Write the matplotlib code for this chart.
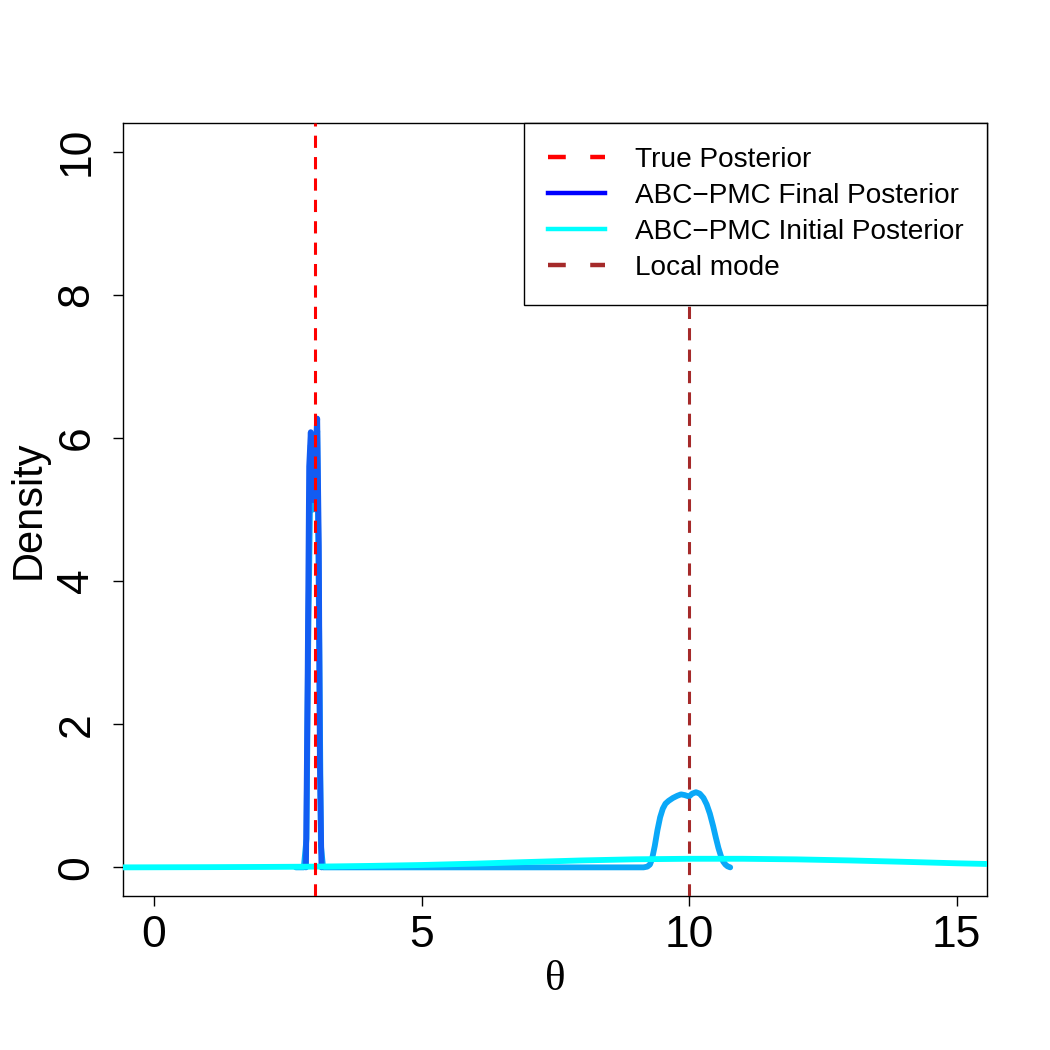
import numpy as np
import matplotlib.pyplot as plt
from matplotlib.lines import Line2D

plt.rcParams['font.family'] = ['Liberation Sans', 'DejaVu Sans']

true_theta = 3.0
local_mode = 10.0

# initial ABC-PMC posterior (broad, cyan)
init_x = np.array([-0.6, 1.0, 2.0, 3.0, 4.0, 5.0, 6.0, 7.0, 8.0, 9.0, 10.0, 11.0,
                   12.0, 13.0, 14.0, 15.0, 15.6])
init_y = np.array([0.0, 0.003, 0.006, 0.01, 0.02, 0.033, 0.052, 0.075, 0.097, 0.113,
                   0.12, 0.12, 0.112, 0.097, 0.078, 0.057, 0.047])

# intermediate posterior (light blue, bimodal)
mid_x = np.array([2.65, 2.80, 2.85, 2.88, 2.93, 2.98, 3.05, 3.09, 3.12, 3.16, 5.0, 8.0,
                  9.15, 9.22, 9.27, 9.31, 9.36, 9.41, 9.46, 9.51, 9.56, 9.62, 9.70,
                  9.78, 9.85, 9.92, 10.0, 10.06, 10.13, 10.20, 10.27, 10.33, 10.39,
                  10.45, 10.50, 10.55, 10.60, 10.64, 10.68, 10.72, 10.77])
mid_y = np.array([0.0, 0.0, 0.4, 3.0, 5.9, 5.0, 6.1, 3.0, 0.3, 0.0, 0.0, 0.0,
                  0.0, 0.01, 0.04, 0.12, 0.3, 0.52, 0.7, 0.82, 0.89, 0.93, 0.97,
                  1.0, 1.02, 1.01, 0.99, 1.03, 1.05, 1.03, 0.97, 0.88, 0.75,
                  0.58, 0.42, 0.27, 0.15, 0.08, 0.04, 0.015, 0.0])

# final ABC-PMC posterior (blue, narrow around theta = 3)
fin_x = np.array([2.84, 2.87, 2.90, 2.93, 2.98, 3.02, 3.05, 3.08, 3.10, 3.13])
fin_y = np.array([0.0, 2.5, 5.6, 6.08, 5.13, 5.8, 6.27, 4.5, 1.5, 0.0])

labels = ['True Posterior', 'ABC\u2212PMC Final Posterior',
          'ABC\u2212PMC Initial Posterior', 'Local mode']

fig = plt.figure(figsize=(10.5, 10.5), dpi=100)
ax = fig.add_axes([123 / 1050, 154 / 1050, 864 / 1050, 773 / 1050])

ax.plot(mid_x, mid_y, color='#0aa8f8', lw=4.2, solid_capstyle='round',
        solid_joinstyle='round', zorder=2)
ax.plot(fin_x, fin_y, color='#125cf2', lw=4.2, solid_capstyle='round',
        solid_joinstyle='round', zorder=3)
ax.plot(init_x, init_y, color='#00ffff', lw=4.2, zorder=4)

ax.axvline(true_theta, color='red', lw=2.2, ls=(0, (4, 3)), zorder=5)
ax.axvline(local_mode, color='#a52a2a', lw=2.2, ls=(0, (4, 3)), zorder=5)

ax.set_xlim(-0.58, 15.57)
ax.set_ylim(-0.4, 10.4)
ax.set_xticks([0, 5, 10, 15])
ax.set_yticks([0, 2, 4, 6, 8, 10])
ax.tick_params(axis='both', labelsize=32, length=7.5, width=1.0)
ax.tick_params(axis='x', pad=6)
ax.tick_params(axis='y', pad=11)
for t in ax.get_yticklabels():
    t.set_rotation(90)
    t.set_va('center')
for s in ax.spines.values():
    s.set_linewidth(1.0)

fig.text(555 / 1050, 1 - 980 / 1050, '\u03b8', fontsize=31, family='Liberation Serif',
         ha='center', va='center')
fig.text(29 / 1050, 1 - 510 / 1050, 'Density', fontsize=30, rotation=90,
         ha='center', va='center')

handles = [
    Line2D([], [], color='red', lw=3.2, ls=(0, (4, 5.5))),
    Line2D([], [], color='#0000ff', lw=3.2),
    Line2D([], [], color='#00ffff', lw=3.2),
    Line2D([], [], color='#a52a2a', lw=3.2, ls=(0, (4, 5.5))),
]
leg = ax.legend(handles, labels, loc='upper right', fontsize=20.2, frameon=True,
                fancybox=False, borderaxespad=0, borderpad=0.85, labelspacing=0.36,
                handlelength=2.05, handletextpad=1.05, framealpha=1)
leg.get_frame().set_edgecolor('black')
leg.get_frame().set_linewidth(1.0)
leg.set_zorder(10)

fig.savefig('out.png', dpi=100, facecolor='white')
